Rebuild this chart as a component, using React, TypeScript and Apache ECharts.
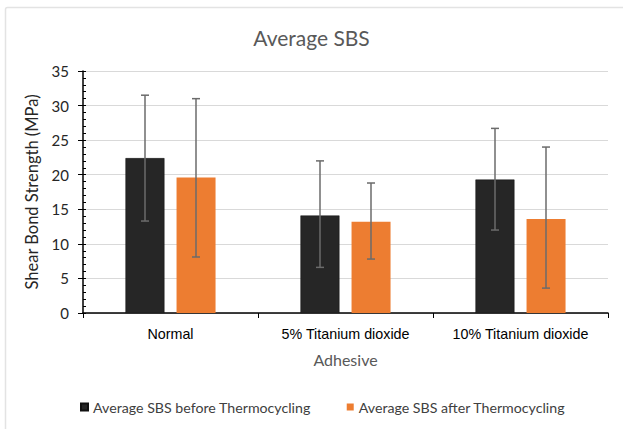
import React, { useEffect, useRef } from "react";
import * as echarts from "echarts";

const categories = ["Normal", "5% Titanium dioxide", "10% Titanium dioxide"];
const beforeValues = [22.4, 14.1, 19.3];
const afterValues = [19.6, 13.2, 13.6];
const beforeErrLow = [13.3, 6.6, 12.0];
const beforeErrHigh = [31.5, 22.0, 26.7];
const afterErrLow = [8.1, 7.8, 3.6];
const afterErrHigh = [31.0, 18.8, 24.0];
const seriesNames = ["Average SBS before Thermocycling", "Average SBS after Thermocycling"];

const FONT = "Lato, 'Open Sans', sans-serif";

function errorSeries(low: number[], high: number[], offset: number) {
  return {
    type: "custom",
    z: 10,
    silent: true,
    data: categories.map((_, i) => [i, low[i], high[i]]),
    renderItem: (params: any, api: any) => {
      const i = api.value(0);
      const lo = api.coord([i, api.value(1)]);
      const hi = api.coord([i, api.value(2)]);
      const x = lo[0] + offset;
      const cap = 4;
      const style = { stroke: "#6b6b6b", lineWidth: 1.5 };
      return {
        type: "group",
        children: [
          { type: "line", shape: { x1: x, y1: hi[1], x2: x, y2: lo[1] }, style },
          { type: "line", shape: { x1: x - cap, y1: hi[1], x2: x + cap, y2: hi[1] }, style },
          { type: "line", shape: { x1: x - cap, y1: lo[1], x2: x + cap, y2: lo[1] }, style },
        ],
      };
    },
  };
}

export default function App() {
  const ref = useRef<HTMLDivElement>(null);
  useEffect(() => {
    if (!ref.current) return;
    const chart = echarts.init(ref.current, null, { renderer: "svg" });
    chart.setOption({
      animation: false,
      backgroundColor: "#ffffff",
      graphic: [
        {
          type: "rect",
          shape: { x: 5.5, y: 7.5, width: 640, height: 440, r: 2 },
          style: { fill: "none", stroke: "#e3e3e3", lineWidth: 1.5 },
          silent: true,
        },
      ],
      title: {
        text: "Average SBS",
        left: "center",
        top: 22,
        textStyle: { fontFamily: FONT, fontSize: 21, fontWeight: "normal", color: "#595959" },
      },
      legend: {
        top: 395,
        left: 75,
        itemWidth: 7,
        itemHeight: 7,
        itemGap: 36,
        icon: "rect",
        textStyle: { fontFamily: FONT, fontSize: 14.2, color: "#404040" },
        data: seriesNames,
      },
      grid: { left: 83, right: 15, top: 71, bottom: 116 },
      xAxis: {
        type: "category",
        data: categories,
        name: "Adhesive",
        nameLocation: "middle",
        nameGap: 38,
        nameTextStyle: { fontFamily: FONT, fontSize: 16, color: "#595959" },
        axisLine: { lineStyle: { color: "#000000", width: 1.5 } },
        axisTick: { show: true, length: 5, lineStyle: { color: "#000000" } },
        axisLabel: {
          interval: 0,
          hideOverlap: false,
          fontFamily: "'Liberation Sans', Arial, sans-serif",
          fontSize: 14.3,
          color: "#000000",
          margin: 14,
        },
      },
      yAxis: [
        {
          type: "value",
          min: 0,
          max: 35,
          interval: 5,
          name: "Shear Bond Strength (MPa)",
          nameLocation: "middle",
          nameGap: 37,
          nameTextStyle: { fontFamily: FONT, fontSize: 16.5, color: "#262626" },
          axisLine: { show: true, lineStyle: { color: "#000000", width: 1.5 } },
          axisTick: { show: true, length: 5, lineStyle: { color: "#000000" } },
          axisLabel: { fontFamily: FONT, fontSize: 15, color: "#262626", margin: 14 },
          splitLine: { show: true, lineStyle: { color: "#d9d9d9", width: 1.2 } },
          minorTick: { show: false },
        },
        {
          type: "value",
          min: 0,
          max: 35,
          interval: 5,
          position: "left",
          axisLine: { show: false },
          axisTick: { show: true, inside: true, length: 3, lineStyle: { color: "#000000" } },
          axisLabel: { show: false },
          splitLine: { show: false },
          minorTick: { show: true, splitNumber: 5, length: 3, lineStyle: { color: "#000000" } },
        },
      ],
      series: [
        {
          name: seriesNames[0],
          type: "bar",
          data: beforeValues,
          barWidth: 39,
          barGap: "31%",
          itemStyle: { color: "#262626", borderColor: "#111111", borderWidth: 0.5 },
        },
        {
          name: seriesNames[1],
          type: "bar",
          data: afterValues,
          barWidth: 39,
          itemStyle: { color: "#ed7d31" },
        },
        errorSeries(beforeErrLow, beforeErrHigh, -25.5),
        errorSeries(afterErrLow, afterErrHigh, 25.5),
      ],
    });
    return () => chart.dispose();
  }, []);
  return (
    <div
      ref={ref}
      style={{ position: "fixed", left: 0, top: 0, width: 623, height: 429 }}
    />
  );
}
